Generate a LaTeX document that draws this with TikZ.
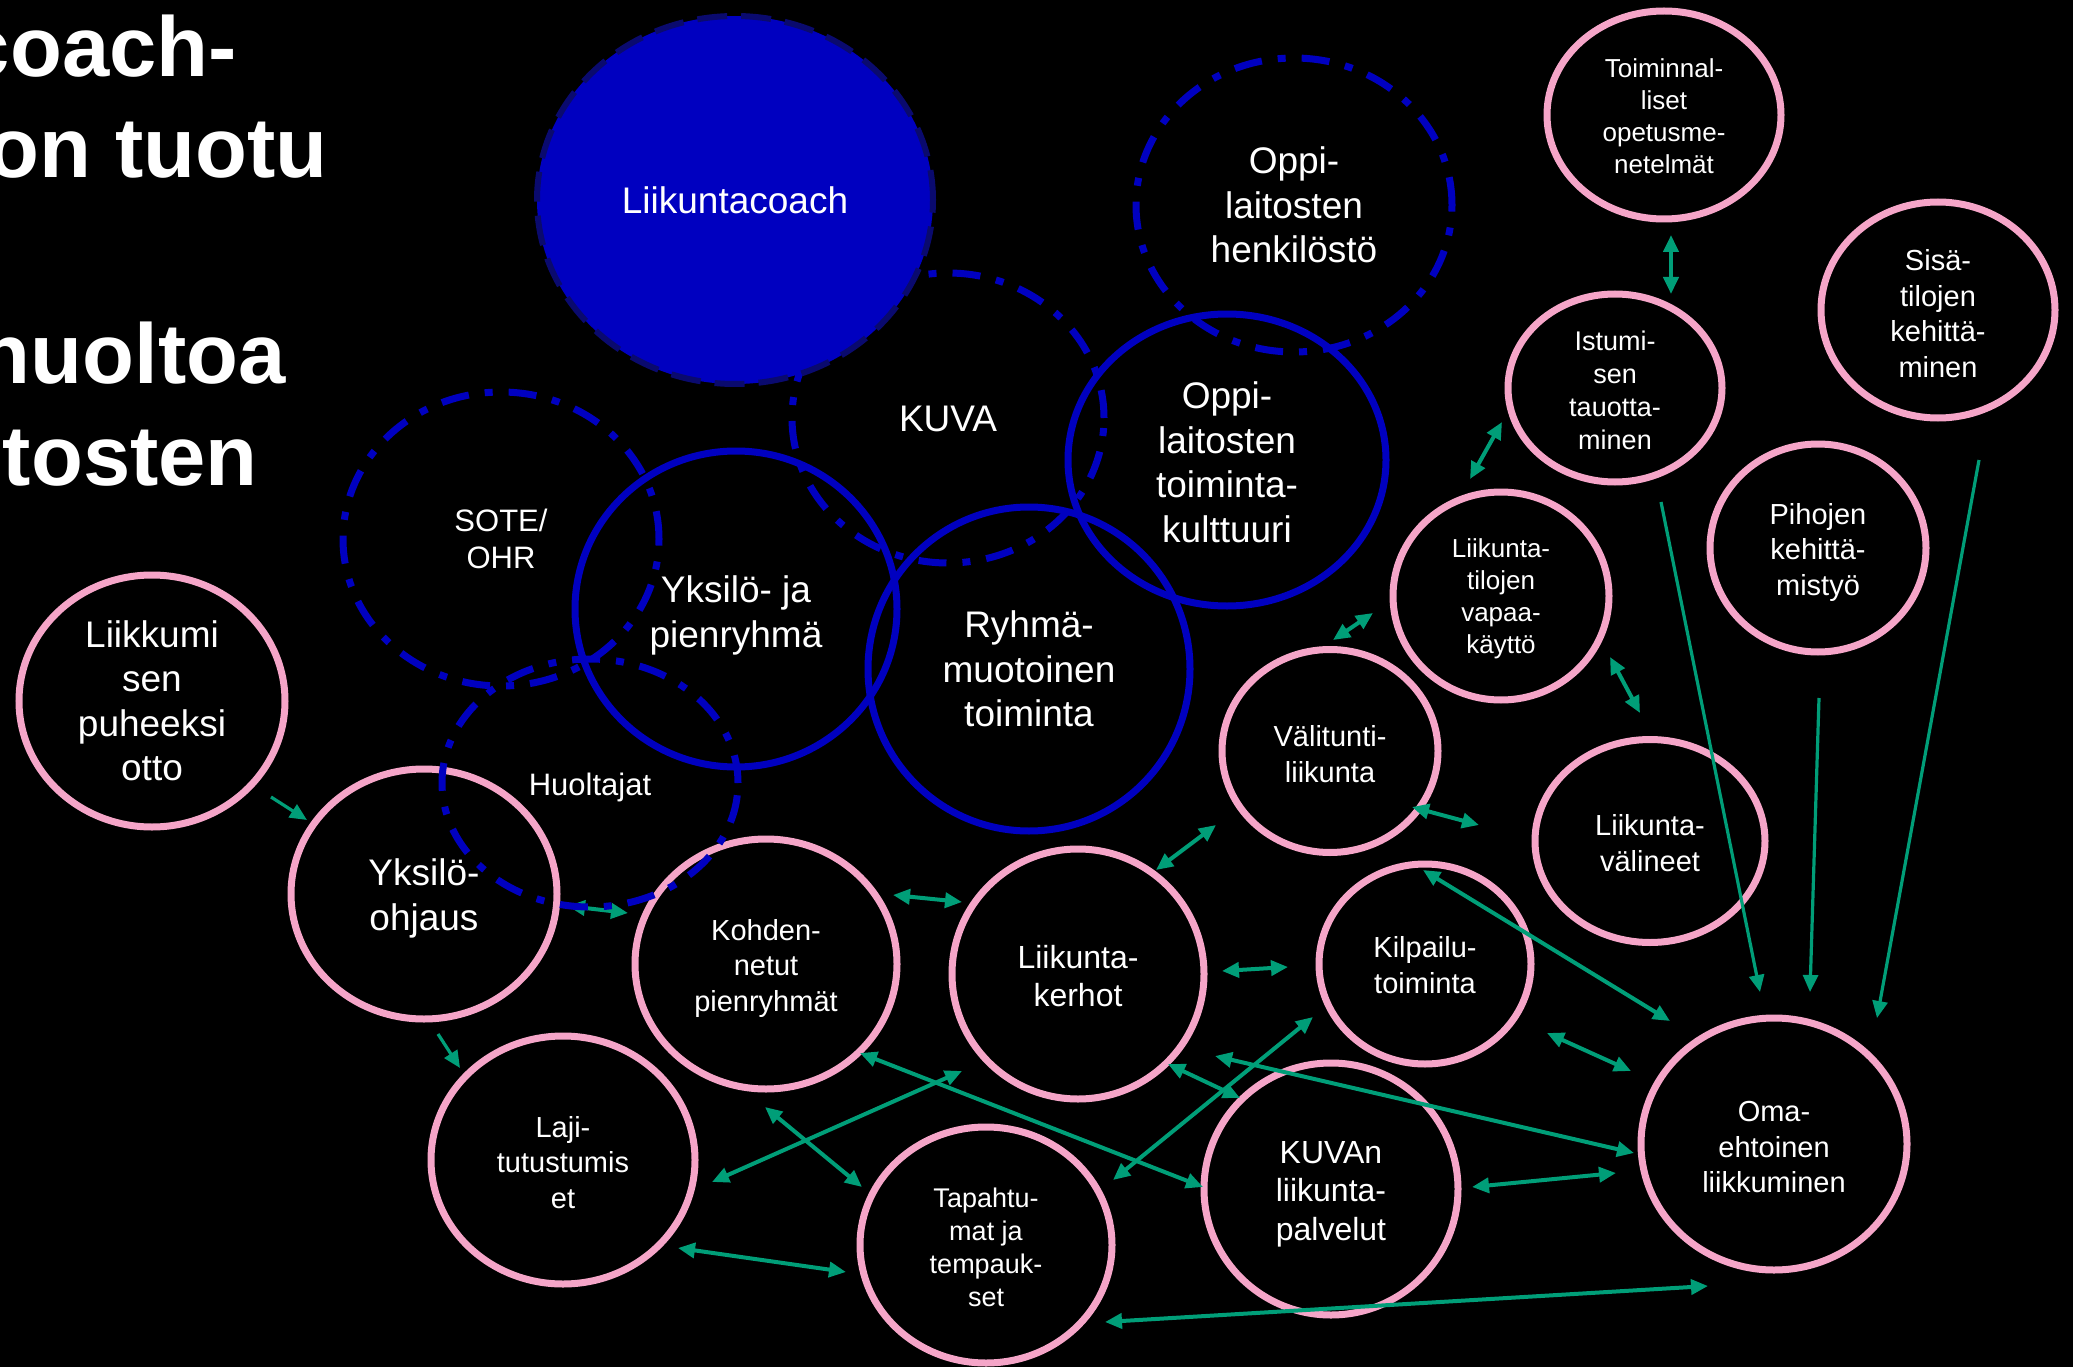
\documentclass[tikz,border=0pt]{standalone}
\usepackage{fontspec}
\setmainfont{Liberation Sans}
\usetikzlibrary{shapes.geometric,arrows.meta}
\definecolor{bluec}{HTML}{0000C0}
\definecolor{coachedge}{HTML}{0A0A6E}
\definecolor{pinkline}{HTML}{F5A5C8}
\definecolor{tealc}{HTML}{009E78}
\begin{document}
\begin{tikzpicture}[x=1pt,y=-1pt,
  ring/.style={ellipse, draw=pinkline, line width=7pt, inner sep=0pt, outer sep=0pt},
  bluering/.style={ellipse, draw=bluec, line width=7pt, inner sep=0pt, outer sep=0pt},
  dashring/.style={bluering, dash pattern=on 28pt off 16pt on 8pt off 16pt},
  txt/.style={text=white, align=center, inner sep=0pt},
  fA/.style={font=\fontsize{37}{44.5}\selectfont},
  fB/.style={font=\fontsize{32}{38.5}\selectfont},
  fS/.style={font=\fontsize{31}{37.5}\selectfont},
  fC/.style={font=\fontsize{29}{35.5}\selectfont},
  fD/.style={font=\fontsize{27}{33}\selectfont},
  fE/.style={font=\fontsize{26}{32}\selectfont},
  biarr/.style={draw=tealc, line width=4pt, {Triangle[length=17pt,width=15pt]}-{Triangle[length=17pt,width=15pt]}},
  monoarr/.style={draw=tealc, line width=3.2pt, -{Triangle[length=17pt,width=15pt]}},
  titletext/.style={text=white, anchor=base east, inner sep=0pt, font=\bfseries\fontsize{85}{102}\selectfont}
]
\fill[black] (0,0) rectangle (2073,1367);
\useasboundingbox (0,0) rectangle (2073,1367);

% title fragments (cut at the left edge, as in the slide)
\node[titletext] (t1) at (237,77) {coach-};
\node[titletext] (t2) at (328,178) {on tuotu};
\node[titletext] (t3) at (286,383) {huoltoa};
\node[titletext] (t4) at (258,485) {tosten};

% pink circles
\node[ring, minimum width=266pt, minimum height=252pt, label={[txt,fA]center:{Liikkumi\\sen\\puheeksi\\otto}}] (puhe) at (152,701) {};
\node[ring, minimum width=266pt, minimum height=250pt, label={[txt,fA,yshift=-4.5pt]center:{Yksilö-\\ohjaus}}] (yo) at (424,894) {};
\node[ring, minimum width=262pt, minimum height=250pt, label={[txt,fC,yshift=-4pt]center:{Kohden-\\netut\\pienryhmät}}] (kohd) at (766,964) {};
\node[ring, minimum width=252pt, minimum height=250pt, label={[txt,fB,yshift=-2pt]center:{Liikunta-\\kerhot}}] (kerhot) at (1078,974) {};
\node[ring, minimum width=264pt, minimum height=248pt, label={[txt,fC,yshift=-2.5pt]center:{Laji-\\tutustumis\\et}}] (laji) at (563,1160) {};
\node[ring, minimum width=252pt, minimum height=236pt, label={[txt,fD,yshift=-2.5pt]center:{Tapahtu-\\mat ja\\tempauk-\\set}}] (tapa) at (986,1245) {};
\node[ring, minimum width=254pt, minimum height=252pt, label={[txt,fB,yshift=-5pt]center:{KUVAn\\liikunta-\\palvelut}}] (kuvan) at (1331,1189) {};
\node[ring, minimum width=216pt, minimum height=203pt, label={[txt,fC,yshift=-3pt]center:{Välitunti-\\liikunta}}] (valit) at (1330,751) {};
\node[ring, minimum width=212pt, minimum height=200pt, label={[txt,fC,yshift=-1pt]center:{Kilpailu-\\toiminta}}] (kilp) at (1425,964) {};
\node[ring, minimum width=230pt, minimum height=203pt, label={[txt,fC,yshift=-2pt]center:{Liikunta-\\välineet}}] (valin) at (1650,841) {};
\node[ring, minimum width=216pt, minimum height=208pt, label={[txt,fE,yshift=-3pt]center:{Liikunta-\\tilojen\\vapaa-\\käyttö}}] (vapaa) at (1501,596) {};
\node[ring, minimum width=214pt, minimum height=188pt, label={[txt,fD,yshift=-2.5pt]center:{Istumi-\\sen\\tauotta-\\minen}}] (istu) at (1615,388) {};
\node[ring, minimum width=234pt, minimum height=208pt, label={[txt,fE,yshift=-1.5pt]center:{Toiminnal-\\liset\\opetusme-\\netelmät}}] (toim) at (1664,115) {};
\node[ring, minimum width=234pt, minimum height=216pt, label={[txt,fC,yshift=-3.5pt]center:{Sisä-\\tilojen\\kehittä-\\minen}}] (sisa) at (1938,310) {};
\node[ring, minimum width=216pt, minimum height=208pt, label={[txt,fC,yshift=-4pt]center:{Pihojen\\kehittä-\\mistyö}}] (piha) at (1818,548) {};
\node[ring, minimum width=266pt, minimum height=252pt, label={[txt,fC,yshift=-3.5pt]center:{Oma-\\ehtoinen\\liikkuminen}}] (oma) at (1774,1144) {};

% arrow end points
\coordinate (a1s) at (271,797);   \coordinate (a1e) at (307,820);
\coordinate (a2s) at (438,1034);  \coordinate (a2e) at (460,1068);
\coordinate (a3s) at (568,906);   \coordinate (a3e) at (628,913);
\coordinate (a4s) at (893,895);   \coordinate (a4e) at (962,902);
\coordinate (a5s) at (1156,870);  \coordinate (a5e) at (1216,825);
\coordinate (a6s) at (1222,971);  \coordinate (a6e) at (1288,967);
\coordinate (a7s) at (1333,640);  \coordinate (a7e) at (1373,613);
\coordinate (a8s) at (1470,479);  \coordinate (a8e) at (1502,422);
\coordinate (a9s) at (1671,235);  \coordinate (a9e) at (1671,294);
\coordinate (a10s) at (1610,657); \coordinate (a10e) at (1640,713);
\coordinate (a11s) at (1412,807); \coordinate (a11e) at (1479,825);
\coordinate (a12s) at (1423,870); \coordinate (a12e) at (1670,1021);
\coordinate (a13s) at (1547,1033);\coordinate (a13e) at (1631,1071);
\coordinate (a14s) at (1215,1056);\coordinate (a14e) at (1634,1153);
\coordinate (a15s) at (1472,1187);\coordinate (a15e) at (1616,1173);
\coordinate (a16s) at (1105,1322);\coordinate (a16e) at (1708,1286);
\coordinate (a17s) at (1661,502); \coordinate (a17e) at (1760,992);
\coordinate (a18s) at (1819,698); \coordinate (a18e) at (1810,992);
\coordinate (a19s) at (1979,460); \coordinate (a19e) at (1877,1018);
\coordinate (a20s) at (860,1053); \coordinate (a20e) at (1203,1187);
\coordinate (a21s) at (712,1182); \coordinate (a21e) at (962,1071);
\coordinate (a22s) at (765,1107); \coordinate (a22e) at (862,1187);
\coordinate (a23s) at (678,1248); \coordinate (a23e) at (846,1272);
\coordinate (a24s) at (1113,1180);\coordinate (a24e) at (1313,1017);
\coordinate (a25s) at (1168,1064);\coordinate (a25e) at (1240,1098);

\draw[monoarr] (a1s) -- (a1e);
\draw[monoarr] (a2s) -- (a2e);
\foreach \i in {3,4,5,6,7,8,9,10,11,12,13,14,15,16,20,21,22,23,24,25}
  \draw[biarr] (a\i s) -- (a\i e);
\draw[monoarr] (a17s) -- (a17e);
\draw[monoarr] (a18s) -- (a18e);
\draw[monoarr] (a19s) -- (a19e);

% blue dash-dot circles
\node[dashring, minimum width=312pt, minimum height=290pt, label={[txt,fA,yshift=-1pt]center:KUVA}] (kuva) at (948,418) {};
\node[dashring, minimum width=316pt, minimum height=294pt, label={[txt,fA]center:{Oppi-\\laitosten\\henkilöstö}}] (henk) at (1294,205) {};
\node[dashring, minimum width=316pt, minimum height=294pt, label={[txt,fS]center:{SOTE/\\OHR}}] (sote) at (501,539) {};
\node[dashring, minimum width=296pt, minimum height=248pt, label={[txt,fS,yshift=-4pt]center:Huoltajat}] (huolt) at (590,783) {};

% blue solid circles
\node[bluering, minimum width=318pt, minimum height=292pt, label={[txt,fA,yshift=-2.5pt]center:{Oppi-\\laitosten\\toiminta-\\kulttuuri}}] (kult) at (1227,460) {};
\node[bluering, minimum width=322pt, minimum height=316pt, label={[txt,fA,yshift=-6.5pt]center:{Yksilö- ja\\pienryhmä}}] (ykja) at (736,609) {};
\node[bluering, minimum width=322pt, minimum height=324pt, label={[txt,fA]center:{Ryhmä-\\muotoinen\\toiminta}}] (ryhma) at (1029,669) {};

% Liikuntacoach
\node[ellipse, fill=bluec, draw=coachedge, line width=6pt, dash pattern=on 30pt off 14pt, inner sep=0pt, outer sep=0pt, minimum width=396pt, minimum height=368pt, label={[txt,fA]center:Liikuntacoach}] (coach) at (735,200) {};
\end{tikzpicture}
\end{document}
